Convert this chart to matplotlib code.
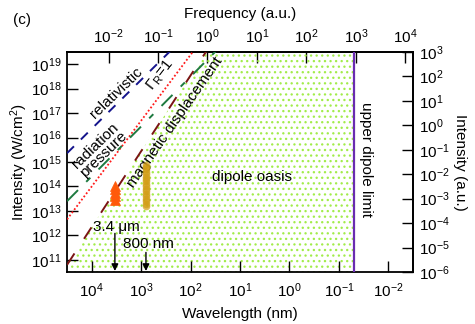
"""Intensity vs wavelength regime map (dipole oasis)."""

import matplotlib

matplotlib.use("Agg")
import matplotlib.pyplot as plt
from matplotlib.ticker import NullLocator

plt.rcParams["font.family"] = ["Liberation Sans", "DejaVu Sans"]
plt.rcParams["mathtext.fontset"] = "custom"
plt.rcParams["mathtext.rm"] = "Liberation Sans"
plt.rcParams["mathtext.it"] = "Liberation Sans:italic"
plt.rcParams["axes.unicode_minus"] = False
plt.rcParams["hatch.linewidth"] = 0.9

FONT = 11

# axis ranges (wavelength nm, intensity W/cm^2)
wl_range = [10**4.5, 10**-2.5]
intensity_range = [10**10.5, 10**19.5]

# tick positions on each axis
wl_ticks = [1e4, 1e3, 1e2, 1e1, 1e0, 1e-1, 1e-2]
intensity_ticks = [1e11, 1e12, 1e13, 1e14, 1e15, 1e16, 1e17, 1e18, 1e19]
freq_ticks = [1e-2, 1e-1, 1e0, 1e1, 1e2, 1e3, 1e4]
au_ticks = [1e-6, 1e-5, 1e-4, 1e-3, 1e-2, 1e-1, 1e0, 1e1, 1e2, 1e3]

line_wl = [31600, 10]
relativistic_I = [2.3e15, 2.3e22]
gamma_r_I = [4.5e12, 1.2e22]
rad_pressure_I = [2.5e13, 3.4e20]
magnetic_I = [6.2e10, 4.4e21]

dipole_limit_wl = 0.05

# experiments
mir_wl = 3400
mir_I = [2.8e13, 4.0e13, 5.5e13, 7.5e13, 1.0e14]
nir_wl = 800
nir_I = [1.6e13, 2.0e13, 2.5e13, 3.2e13, 4.0e13, 5.0e13, 6.3e13, 8.0e13, 1.0e14,
         1.25e14, 1.6e14, 2.0e14, 2.5e14, 3.2e14, 4.0e14, 5.0e14, 6.3e14, 7.2e14]

AU_INTENSITY = 10**16.5
AU_FREQ_NM = 45.563

fig = plt.figure(figsize=(4.75, 3.24), dpi=100, facecolor="white")
ax = fig.add_axes([0.1411, 0.1605, 0.7284, 0.679])
ax.set_xscale("log")
ax.set_yscale("log")

# dipole oasis: below magnetic displacement line, left of the upper dipole limit
ax.fill_between(
    line_wl + [dipole_limit_wl],
    intensity_range[0],
    magnetic_I + [magnetic_I[-1]],
    facecolor="none",
    edgecolor="#a2ec4a",
    hatch="...",
    linewidth=0,
    zorder=1,
)

ax.plot(line_wl, relativistic_I, color="#14148c", lw=1.4, linestyle=(0, (5, 5)), zorder=3)
ax.plot(line_wl, gamma_r_I, color="#ff1a1a", lw=1.3, linestyle=(0, (1, 1.2)), zorder=3)
ax.plot(line_wl, rad_pressure_I, color="#1e7a40", lw=1.4, linestyle=(0, (8, 6, 3, 6)), zorder=3)
ax.plot(line_wl, magnetic_I, color="#7a1414", lw=1.4, linestyle=(0, (7, 9)), zorder=3)
ax.axvline(dipole_limit_wl, color="#6a2cb0", lw=1.6, zorder=3)

ax.plot([mir_wl] * len(mir_I), mir_I, linestyle="none", marker="^", ms=7,
        color="#ff5a0a", mec="#ff5a0a", mew=0.5, zorder=4)
ax.plot([nir_wl] * len(nir_I), nir_I, linestyle="none", marker="o", ms=5.5,
        color="#d39e18", mec="none", alpha=0.7, zorder=4)

arrow = dict(arrowstyle="-|>", color="black", lw=1.0, mutation_scale=10, shrinkA=0, shrinkB=0)
ax.annotate("", xy=(mir_wl, intensity_range[0] * 1.1), xytext=(mir_wl, 1.2e12), arrowprops=arrow)
ax.annotate("", xy=(nir_wl, intensity_range[0] * 1.1), xytext=(nir_wl, 2.0e11), arrowprops=arrow)
ax.text(9300, 2.1e12, "3.4 μm", fontsize=FONT, ha="left", va="center")
ax.text(2350, 4.3e11, "800 nm", fontsize=FONT, ha="left", va="center")

ax.text(3220, 6.6e17, "relativistic", fontsize=FONT, rotation=44,
        ha="center", va="center", rotation_mode="anchor")
ax.text(7080, 3.0e15, "radiation\npressure", fontsize=FONT, rotation=44, linespacing=0.85,
        ha="center", va="center", rotation_mode="anchor")
ax.text(414, 3.6e18, "Γ$_{\\rm R}$=1", fontsize=FONT, rotation=52,
        ha="center", va="center", rotation_mode="anchor")
ax.text(206, 4.3e16, "magnetic displacement", fontsize=FONT, rotation=55,
        ha="center", va="center", rotation_mode="anchor")
ax.text(5.7, 2.4e14, "dipole oasis", fontsize=FONT, ha="center", va="center")
ax.text(0.028, 1.3e15, "upper dipole limit", fontsize=FONT, rotation=-90,
        ha="center", va="center")

ax.set_xlim(wl_range)
ax.set_ylim(intensity_range)
ax.set_xticks(wl_ticks)
ax.set_yticks(intensity_ticks)
ax.xaxis.set_minor_locator(NullLocator())
ax.yaxis.set_minor_locator(NullLocator())
ax.set_xlabel("Wavelength (nm)", fontsize=FONT, labelpad=5)
ax.set_ylabel("Intensity (W/cm$^2$)", fontsize=FONT, labelpad=1)
ax.tick_params(direction="in", length=8, width=1, labelsize=FONT, pad=4,
               top=False, right=False)
ax.tick_params(axis="x", pad=7)
for spine in ax.spines.values():
    spine.set_linewidth(1.3)

top = ax.secondary_xaxis("top", functions=(lambda w: AU_FREQ_NM / w, lambda f: AU_FREQ_NM / f))
top.set_xticks(freq_ticks)
top.xaxis.set_minor_locator(NullLocator())
top.tick_params(direction="in", length=8, width=1, labelsize=FONT, pad=4)
top.set_xlabel("Frequency (a.u.)", fontsize=FONT, labelpad=7)

right = ax.secondary_yaxis("right", functions=(lambda i: i / AU_INTENSITY, lambda a: a * AU_INTENSITY))
right.set_yticks(au_ticks)
right.yaxis.set_minor_locator(NullLocator())
right.tick_params(direction="in", length=8, width=1, labelsize=FONT, pad=4)
right.set_ylabel("Intensity (a.u.)", fontsize=FONT, rotation=270, labelpad=13)
for sec in (top, right):
    for spine in sec.spines.values():
        spine.set_linewidth(1.3)

fig.text(0.046, 0.938, "(c)", fontsize=FONT, ha="center", va="center")

fig.savefig("out.png", dpi=100, facecolor="white")
